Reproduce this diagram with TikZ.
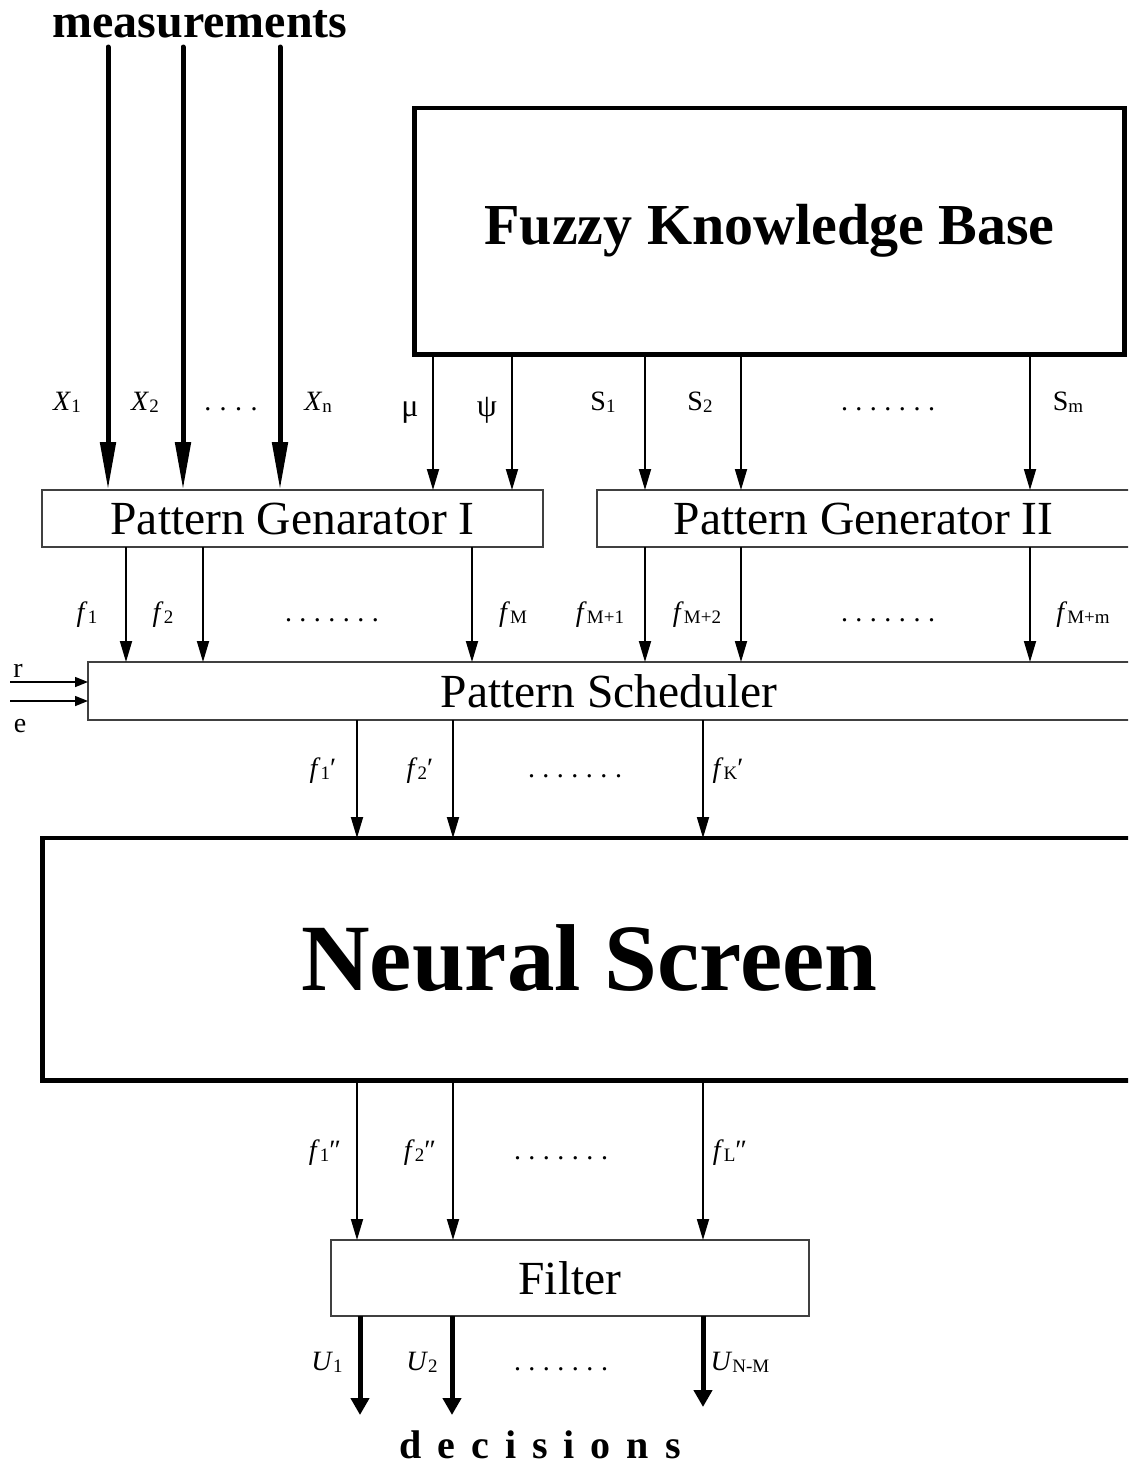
\documentclass[tikz,border=0pt]{standalone}
\usepackage{fontspec}
\setmainfont{Liberation Serif}
\usetikzlibrary{arrows.meta}
\newcommand{\sbs}[1]{\raisebox{-2pt}{\fontsize{19}{19}\selectfont\upshape #1}}
\newcommand{\dotsfour}{.\hspace{8.5pt}.\hspace{8.5pt}.\hspace{8.5pt}.}
\newcommand{\dotsseven}{.\hspace{7.5pt}.\hspace{7.5pt}.\hspace{7.5pt}.\hspace{7.5pt}.\hspace{7.5pt}.\hspace{7.5pt}.}
\begin{document}
\begin{tikzpicture}[x=1pt,y=-1pt,
  every node/.style={inner sep=0pt, outer sep=0pt},
  thickbox/.style={draw, line width=4.8pt},
  thinbox/.style={draw=black!75, line width=1.3pt},
  thinarrow/.style={line width=1.8pt, -{Triangle[length=21pt,width=12pt]}},
  bigarrow/.style={line width=5pt, line cap=round, -{Triangle[length=48pt,width=15pt]}},
  outarrow/.style={line width=5pt, -{Triangle[length=17pt,width=18pt]}},
  sidearrow/.style={line width=1.5pt, -{Triangle[length=13pt,width=10pt]}},
  lbl/.style={anchor=base, font=\fontsize{28}{28}\selectfont},
  greek/.style={anchor=base, font=\fontsize{32}{32}\selectfont},
  boxtxt/.style={font=\fontsize{47.5}{47.5}\selectfont},
]
\useasboundingbox (0,0) rectangle (1128,1465);
\clip (0,0) rectangle (1128,1465);

% titles
\node[font=\fontsize{48}{48}\selectfont\bfseries, anchor=base] (meas) at (200,37) {measurements};
\node[font=\fontsize{40}{40}\selectfont\bfseries, anchor=base] (dec) at (540,1458) {\spaceskip=16pt\relax d e c i s i o n s};

% boxes
\node[thickbox, minimum width=710pt, minimum height=246.5pt, font=\fontsize{58}{58}\selectfont\bfseries] (fkb) at (769.5,231.25) {Fuzzy Knowledge Base};
\node[thinbox, boxtxt, minimum width=501pt, minimum height=57pt] (pg1) at (292.5,518.5) {Pattern Genarator I};
\node[thinbox, boxtxt, minimum width=533pt, minimum height=57pt] (pg2) at (863.5,518.5) {Pattern Generator II};
\node[thinbox, boxtxt, minimum width=1042pt, minimum height=58pt] (sched) at (609,691) {Pattern Scheduler};
\node[thickbox, minimum width=1093.5pt, minimum height=242.5pt, font=\fontsize{95}{95}\selectfont\bfseries] (ns) at (589.25,959.25) {\raisebox{4pt}{Neural Screen}};
\node[thinbox, boxtxt, minimum width=478pt, minimum height=76pt] (filt) at (570,1278) {Filter};

% column coordinates
\coordinate (cm1) at (108,0);
\coordinate (cm2) at (183,0);
\coordinate (cm3) at (280,0);
\coordinate (cmu) at (433,0);
\coordinate (cpsi) at (512,0);
\coordinate (cs1) at (645,0);
\coordinate (cs2) at (741,0);
\coordinate (csm) at (1030,0);
\coordinate (cf1) at (126,0);
\coordinate (cf2) at (203,0);
\coordinate (cfM) at (472,0);
\coordinate (ck1) at (357,0);
\coordinate (ck2) at (453,0);
\coordinate (ckK) at (703,0);
\coordinate (cu1) at (360,0);
\coordinate (cu2) at (452,0);
\coordinate (cu3) at (703,0);

% measurement inputs
\coordinate (m1) at (108,47);
\coordinate (m2) at (183,47);
\coordinate (m3) at (280,47);
\draw[bigarrow] (m1) -- (pg1.north -| cm1);
\draw[bigarrow] (m2) -- (pg1.north -| cm2);
\draw[bigarrow] (m3) -- (pg1.north -| cm3);

% knowledge base outputs
\draw[thinarrow] (fkb.south -| cmu) -- (pg1.north -| cmu);
\draw[thinarrow] (fkb.south -| cpsi) -- (pg1.north -| cpsi);
\draw[thinarrow] (fkb.south -| cs1) -- (pg2.north -| cs1);
\draw[thinarrow] (fkb.south -| cs2) -- (pg2.north -| cs2);
\draw[thinarrow] (fkb.south -| csm) -- (pg2.north -| csm);

% generators to scheduler
\draw[thinarrow] (pg1.south -| cf1) -- (sched.north -| cf1);
\draw[thinarrow] (pg1.south -| cf2) -- (sched.north -| cf2);
\draw[thinarrow] (pg1.south -| cfM) -- (sched.north -| cfM);
\draw[thinarrow] (pg2.south -| cs1) -- (sched.north -| cs1);
\draw[thinarrow] (pg2.south -| cs2) -- (sched.north -| cs2);
\draw[thinarrow] (pg2.south -| csm) -- (sched.north -| csm);

% r, e inputs
\coordinate (rin) at (10,682);
\coordinate (ein) at (10,701);
\draw[sidearrow] (rin) -- (rin -| sched.west);
\draw[sidearrow] (ein) -- (ein -| sched.west);

% scheduler to neural screen
\draw[thinarrow] (sched.south -| ck1) -- (ns.north -| ck1);
\draw[thinarrow] (sched.south -| ck2) -- (ns.north -| ck2);
\draw[thinarrow] (sched.south -| ckK) -- (ns.north -| ckK);

% neural screen to filter
\draw[thinarrow] (ns.south -| ck1) -- (filt.north -| ck1);
\draw[thinarrow] (ns.south -| ck2) -- (filt.north -| ck2);
\draw[thinarrow] (ns.south -| ckK) -- (filt.north -| ckK);

% outputs
\coordinate (u1) at (360,1415);
\coordinate (u2) at (452,1415);
\coordinate (u3) at (703,1407);
\draw[outarrow] (filt.south -| cu1) -- (u1);
\draw[outarrow] (filt.south -| cu2) -- (u2);
\draw[outarrow] (filt.south -| cu3) -- (u3);

% labels row 1
\node[lbl] (lx1) at (67,410) {\textit{X}\sbs{1}};
\node[lbl] (lx2) at (145,410) {\textit{X}\sbs{2}};
\node[lbl] (lxd) at (231,410) {\dotsfour};
\node[lbl] (lxn) at (318,410) {\textit{X}\sbs{n}};
\node[greek] (lmu) at (410,416) {μ};
\node[greek] (lpsi) at (487,416) {ψ};
\node[lbl] (ls1) at (603,410) {S\sbs{1}};
\node[lbl] (ls2) at (700,410) {S\sbs{2}};
\node[lbl] (lsd) at (888,410) {\dotsseven};
\node[lbl] (lsm) at (1068,410) {S\sbs{m}};

% labels row 2
\node[lbl] (lf1) at (87,621) {\textit{f}\sbs{1}};
\node[lbl] (lf2) at (163,621) {\textit{f}\sbs{2}};
\node[lbl] (lfd) at (332,621) {\dotsseven};
\node[lbl] (lfM) at (513,621) {\textit{f}\sbs{M}};
\node[lbl] (lfM1) at (600,621) {\textit{f}\sbs{M+1}};
\node[lbl] (lfM2) at (697,621) {\textit{f}\sbs{M+2}};
\node[lbl] (lfd2) at (888,621) {\dotsseven};
\node[lbl] (lfMm) at (1083,621) {\textit{f}\sbs{M+m}};

\node[lbl] (lr) at (18,677) {r};
\node[lbl] (le) at (20,732) {e};

% labels row 3
\node[lbl] (lk1) at (323,777) {\textit{f}\sbs{1}′};
\node[lbl] (lk2) at (420,777) {\textit{f}\sbs{2}′};
\node[lbl] (lkd) at (575,777) {\dotsseven};
\node[lbl] (lkK) at (728,777) {\textit{f}\sbs{K}′};

% labels row 4
\node[lbl] (ll1) at (325,1159) {\textit{f}\sbs{1}″};
\node[lbl] (ll2) at (420,1159) {\textit{f}\sbs{2}″};
\node[lbl] (lld) at (561,1159) {\dotsseven};
\node[lbl] (llL) at (730,1159) {\textit{f}\sbs{L}″};

% labels row 5
\node[lbl] (lu1) at (327,1370) {\textit{U}\sbs{1}};
\node[lbl] (lu2) at (422,1370) {\textit{U}\sbs{2}};
\node[lbl] (lud) at (561,1370) {\dotsseven};
\node[lbl] (luN) at (740,1370) {\textit{U}\sbs{N-M}};
\end{tikzpicture}
\end{document}
